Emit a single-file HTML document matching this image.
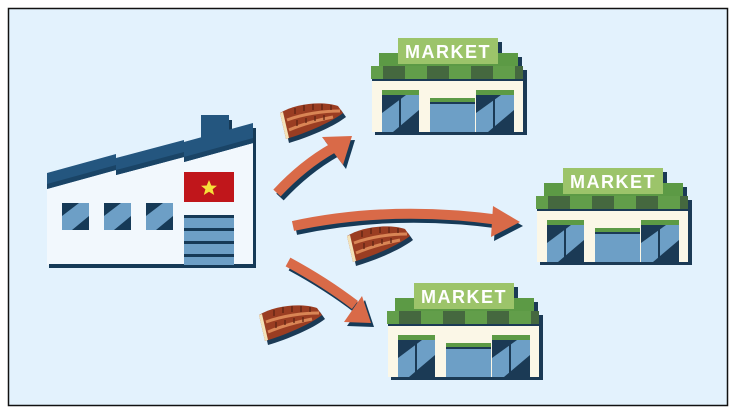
<!DOCTYPE html>
<html><head><meta charset="utf-8"><style>
html,body{margin:0;padding:0;background:#fff}
svg{display:block}
</style></head><body>
<svg width="736" height="414" viewBox="0 0 736 414" xmlns="http://www.w3.org/2000/svg">
<defs>
<g id="mk">
  <rect x="31" y="4" width="100" height="26" fill="#1b3a55"/>
  <rect x="12" y="19" width="139" height="13" fill="#1b3a55"/>
  <rect x="4" y="32" width="152" height="65" fill="#1b3a55"/>
  <rect x="8" y="15" width="139" height="14" fill="#5c9a45"/>
  <rect x="27" y="0" width="100" height="26" fill="#9cc46a"/>
  <text x="77" y="20" text-anchor="middle" font-family="Liberation Sans, sans-serif" font-weight="bold" font-size="18" letter-spacing="1.5" fill="#fff">MARKET</text>
  <rect x="0" y="28" width="152" height="13" fill="#629e4a"/>
  <rect x="12" y="28" width="22" height="13" fill="#45683f"/>
  <rect x="56" y="28" width="22" height="13" fill="#45683f"/>
  <rect x="100" y="28" width="22" height="13" fill="#45683f"/>
  <rect x="144" y="28" width="8" height="13" fill="#45683f"/>
  <rect x="1" y="41" width="151" height="53" fill="#fbf7e7"/>
  <rect x="1" y="41" width="151" height="2" fill="#1b3a55"/>
  <rect x="11" y="52" width="37" height="42" fill="#6d9fc6"/>
  <rect x="11" y="52" width="37" height="5" fill="#5c9a45"/>
  <polygon points="11,57 35,57 11,75" fill="#1b3a55"/>
  <polygon points="48,72 48,94 22,94" fill="#1b3a55"/>
  <rect x="28" y="57" width="2" height="37" fill="#1b3a55"/>
  <rect x="59" y="60" width="45" height="34" fill="#6d9fc6"/>
  <rect x="59" y="60" width="45" height="4" fill="#5c9a45"/>
  <rect x="59" y="64" width="45" height="2" fill="#1b3a55"/>
  <rect x="105" y="52" width="38" height="42" fill="#6d9fc6"/>
  <rect x="105" y="52" width="38" height="5" fill="#5c9a45"/>
  <polygon points="105,57 130,57 105,75" fill="#1b3a55"/>
  <polygon points="143,72 143,94 117,94" fill="#1b3a55"/>
  <rect x="122" y="57" width="2" height="37" fill="#1b3a55"/>
</g>
<g id="fish">
  <path d="M2,12 C18,2 45,0 60,5 L65,12 C52,22 28,32 8,38 Z" fill="#1b3a55" transform="translate(3,4)"/>
  <path d="M2,12 C18,2 45,0 60,5 L65,12 C52,22 28,32 8,38 Z" fill="#9a3d22"/>
  <path d="M2,12 L8,38 L11,37 L5,11 Z" fill="#f3e2b8"/>
  <path d="M9,19 C25,13 45,10 62,10" stroke="#d98555" stroke-width="3" fill="none"/>
  <path d="M11,29 C25,23 40,19 55,16" stroke="#d98555" stroke-width="3" fill="none"/>
  <g stroke="#5e2414" stroke-width="1.3">
    <line x1="17" y1="7" x2="17" y2="13"/><line x1="26" y1="4" x2="26" y2="10"/><line x1="35" y1="3" x2="35" y2="9"/><line x1="44" y1="3" x2="44" y2="9"/><line x1="53" y1="4" x2="53" y2="9"/>
    <line x1="19" y1="19" x2="19" y2="25"/><line x1="28" y1="17" x2="28" y2="22"/><line x1="37" y1="15" x2="37" y2="20"/><line x1="46" y1="14" x2="46" y2="19"/>
  </g>
</g>
</defs>
<rect x="0" y="0" width="736" height="414" fill="#fff"/>
<rect x="8.5" y="8.5" width="719" height="397" fill="#e3f2fd" stroke="#111" stroke-width="1.5"/>

<!-- factory -->
<rect x="201" y="115" width="28" height="30" fill="#24567f"/>
<rect x="229" y="120" width="3" height="20" fill="#163a57"/>
<polygon points="50,190 256,140 256,268 50,268" fill="#163a57"/>
<polygon points="47,188 116,170 116,175 184,157 184,162 253,143 253,265 47,265" fill="#f2f8fd"/>
<!-- roof segments -->
<polygon points="47,173 116,154 116,170 47,189" fill="#24567f"/>
<polygon points="47,184 116,165 116,170 47,189" fill="#1a4466"/>
<polygon points="116,158 184,140 184,157 116,175" fill="#24567f"/>
<polygon points="116,170 184,152 184,157 116,175" fill="#1a4466"/>
<polygon points="184,142 253,123 253,143 184,162" fill="#24567f"/>
<polygon points="184,157 253,138 253,143 184,162" fill="#1a4466"/>
<rect x="253" y="128" width="3" height="140" fill="#163a57"/>
<rect x="49" y="264" width="207" height="4" fill="#163a57"/>
<rect x="184" y="172" width="50" height="30" fill="#c0161b"/>
<polygon points="209,180 211.3,185.5 217,185.7 212.6,189.3 214.2,195 209,191.7 203.8,195 205.4,189.3 201,185.7 206.7,185.5" fill="#f6e03a"/>
<g>
<rect x="184" y="215" width="50" height="50" fill="#6d9fc6"/>
<rect x="184" y="215" width="50" height="3" fill="#163a57"/>
<rect x="184" y="228" width="50" height="3" fill="#163a57"/>
<rect x="184" y="241" width="50" height="3" fill="#163a57"/>
<rect x="184" y="254" width="50" height="3" fill="#163a57"/>
</g>
<g>
<rect x="62" y="203" width="27" height="27" fill="#6d9fc6"/><polygon points="62,203 79,203 62,216" fill="#163a57"/><polygon points="89,216 89,230 72,230" fill="#163a57"/>
<rect x="104" y="203" width="27" height="27" fill="#6d9fc6"/><polygon points="104,203 121,203 104,216" fill="#163a57"/><polygon points="131,216 131,230 114,230" fill="#163a57"/>
<rect x="146" y="203" width="27" height="27" fill="#6d9fc6"/><polygon points="146,203 163,203 146,216" fill="#163a57"/><polygon points="173,216 173,230 156,230" fill="#163a57"/>
</g>

<use href="#mk" x="371" y="38"/>
<use href="#mk" x="536" y="168"/>
<use href="#mk" x="387" y="283"/>

<g transform="translate(3,4)" fill="#163a57" stroke="#163a57">
  <path d="M277,193 Q303,165 333,148" stroke-width="10" fill="none"/>
  <polygon points="322,137 352,136 343,165" stroke="none"/>
  <path d="M293,226 Q390,205 500,220" stroke-width="10" fill="none"/>
  <polygon points="493,206 520,222 491,237" stroke="none"/>
  <path d="M288,262 Q325,282 355,305" stroke-width="10" fill="none"/>
  <polygon points="362,296 371,323 344,322" stroke="none"/>
</g>
<g fill="#d96a48" stroke="#d96a48">
  <path d="M277,193 Q303,165 333,148" stroke-width="10" fill="none"/>
  <polygon points="322,137 352,136 343,165" stroke="none"/>
  <path d="M293,226 Q390,205 500,220" stroke-width="10" fill="none"/>
  <polygon points="493,206 520,222 491,237" stroke="none"/>
  <path d="M288,262 Q325,282 355,305" stroke-width="10" fill="none"/>
  <polygon points="362,296 371,323 344,322" stroke="none"/>
</g>

<use href="#fish" x="278" y="101"/>
<use href="#fish" x="345" y="224"/>
<use href="#fish" x="257" y="303"/>
</svg>
</body></html>
